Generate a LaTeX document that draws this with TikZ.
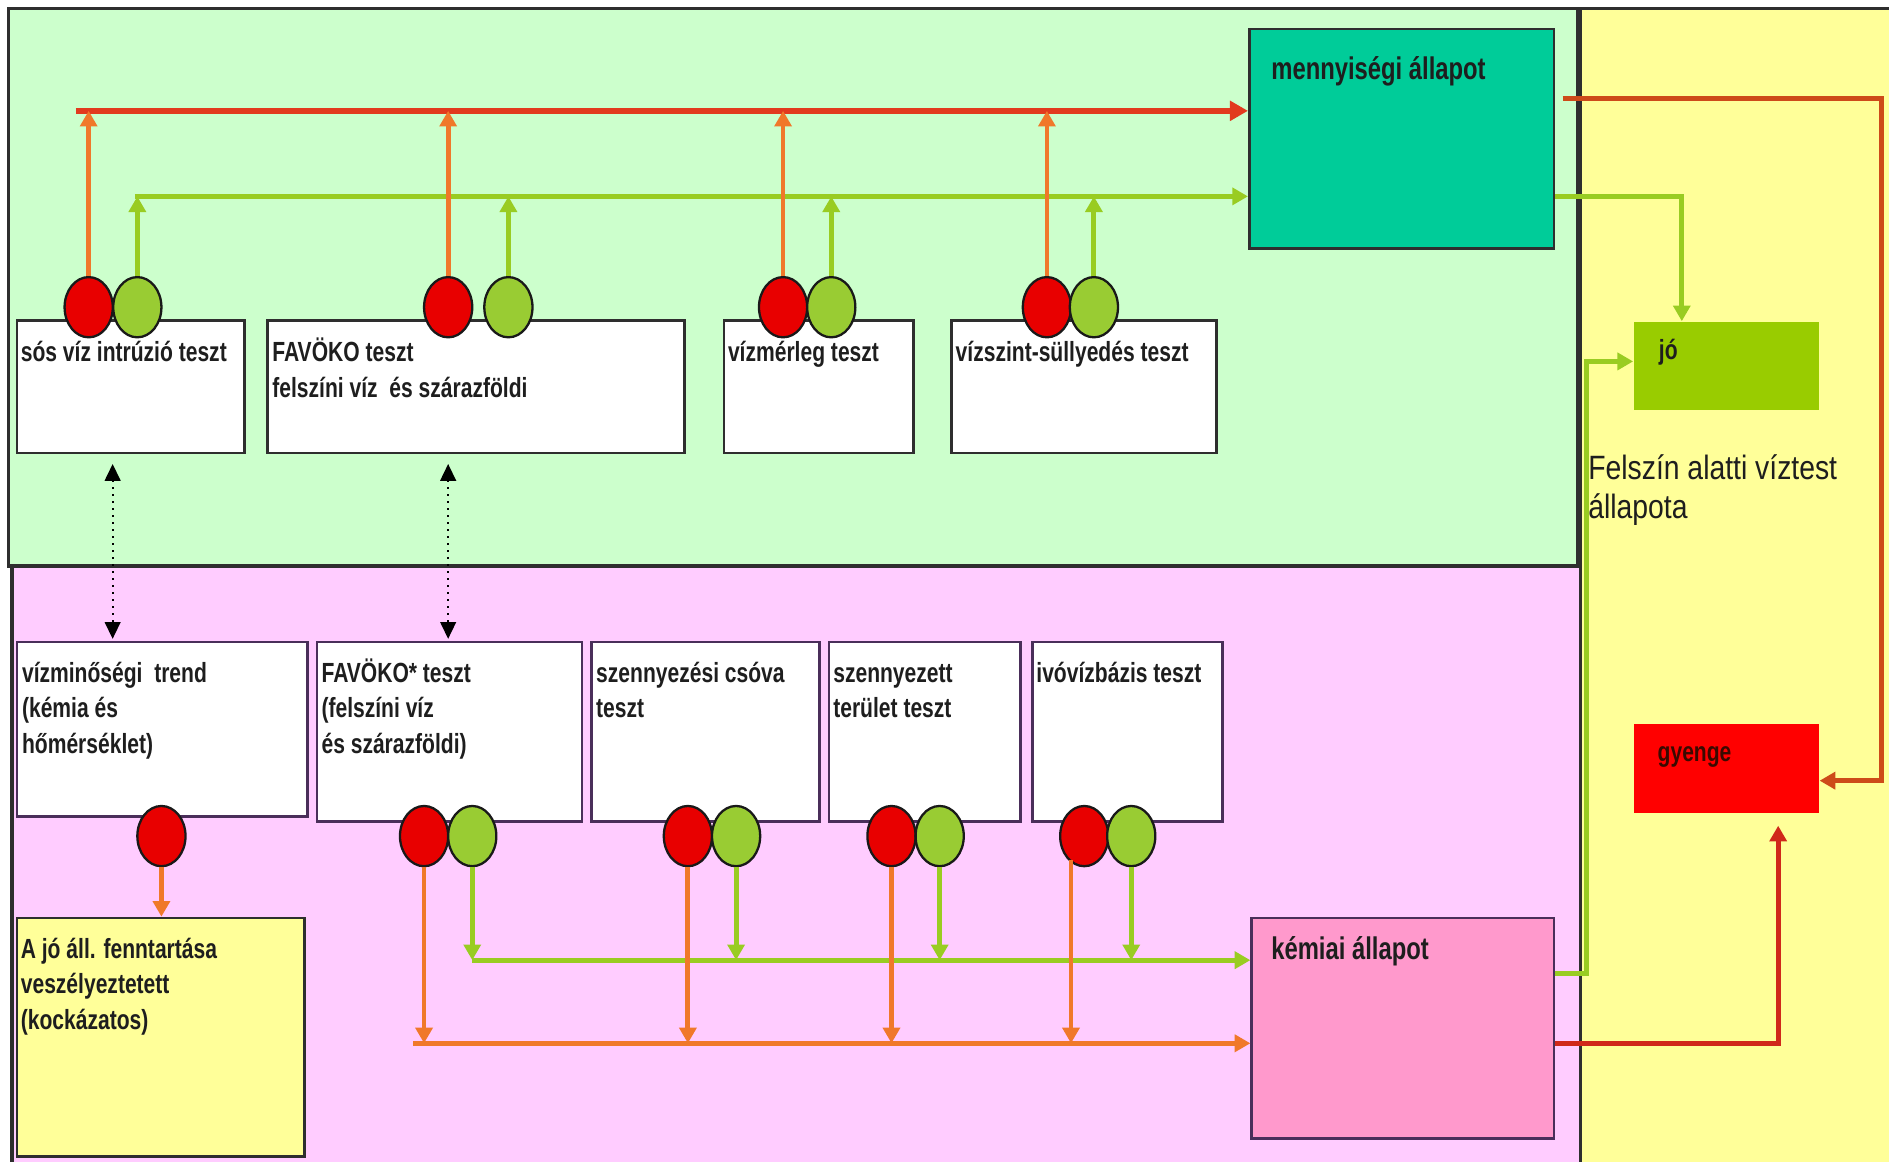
\documentclass[tikz,border=0pt]{standalone}
\usepackage{fontspec}
\setmainfont{Liberation Sans}
\newfontfamily\nbfam[FakeStretch=0.76]{Liberation Sans}
\newfontfamily\nrfam[FakeStretch=0.84]{Liberation Sans}
\usetikzlibrary{shapes.geometric,arrows.meta,fit}
\definecolor{bgG}{HTML}{CCFFCC}
\definecolor{bgP}{HTML}{FFCCFF}
\definecolor{bgY}{HTML}{FFFF99}
\definecolor{tealbox}{HTML}{00CC99}
\definecolor{pinkbox}{HTML}{FF99CC}
\definecolor{jobox}{HTML}{99CC00}
\definecolor{gyred}{HTML}{FF0000}
\definecolor{cRed}{HTML}{E80000}
\definecolor{cGreen}{HTML}{99CC33}
\definecolor{lnOr}{HTML}{F0782A}
\definecolor{lnRed}{HTML}{E23A1E}
\definecolor{lnGr}{HTML}{99CC22}
\definecolor{lnBr}{HTML}{CD4B19}
\definecolor{lnDr}{HTML}{D0281A}
\definecolor{bdr}{HTML}{2E2E2E}
\definecolor{bdrP}{HTML}{4A2E5A}
\definecolor{txt}{HTML}{1E1E1E}
\definecolor{txtdk}{HTML}{3A0A00}
\newcommand\lstr{\rule{0pt}{11pt}}
\newcommand\lstrb{\rule{0pt}{12.5pt}}
\newcommand\lstrc{\rule{0pt}{13pt}}
\begin{document}
\begin{tikzpicture}[x=0.5pt,y=-0.5pt,
  tbx/.style={draw=bdr, line width=1.1pt, fill=white, inner sep=0pt},
  pbx/.style={draw=bdrP, line width=1.1pt, fill=white, inner sep=0pt},
  lbl/.style={anchor=north west, inner sep=0pt, align=left, text=txt,
    font=\nbfam\bfseries\fontsize{11.5pt}{14.75pt}\selectfont},
  lb/.style n args={3}{label={[lbl,xshift=#1,yshift=#2]north west:{\lstr#3}}},
  lbb/.style n args={3}{label={[lbl,font=\nbfam\bfseries\fontsize{13pt}{16pt}\selectfont,xshift=#1,yshift=#2]north west:{\lstrb#3}}},
  rc/.style={ellipse, draw=black!90, line width=0.95pt, fill=cRed,
    minimum width=20pt, minimum height=25pt, inner sep=0pt},
  gc/.style={rc, fill=cGreen},
  tip/.style={-{Triangle[length=6.5pt,width=7pt]}},
  orl/.style={draw=lnOr, line width=2pt, tip},
  grl/.style={draw=lnGr, line width=2pt, tip},
  dotarr/.style={draw=black, dotted, line width=0.9pt,
    {Triangle[length=7pt,width=6.5pt]}-{Triangle[length=7pt,width=6.5pt]}}
]
\useasboundingbox (0,0) rectangle (1568,964);
% regions
\path[fill=bgY, draw=bdr, line width=1.2pt] (1312,7) rectangle (1590,990);
\path[fill=bgG, draw=bdr, line width=1.5pt] (7,7) rectangle (1310,470);
\path[fill=bgP, draw=bdr, line width=1.5pt] (10,470) rectangle (1312,990);

% top boxes
\node[tbx, fit={(14,266)(203,376)}, lb={2pt}{-6.5pt}{sós víz intrúzió teszt}] (sos) {};
\node[tbx, fit={(222,266)(568,376)}, lb={2.4pt}{-6.5pt}{FAVÖKO teszt\\felszíni víz\ \ és szárazföldi}] (fav) {};
\node[tbx, fit={(601,266)(758,376)}, lb={2pt}{-6.5pt}{vízmérleg teszt}] (vzm) {};
\node[tbx, fit={(790,266)(1010,376)}, lb={2pt}{-6.5pt}{vízszint-süllyedés teszt}] (vzs) {};
\node[tbx, fill=tealbox, fit={(1037,24)(1290,206)}, lbb={9.5pt}{-9pt}{mennyiségi állapot}] (mb) {};

% bottom boxes
\node[pbx, fit={(14,533)(255,678)}, lb={2.5pt}{-6pt}{vízminőségi\ \ trend\\(kémia és\\hőmérséklet)}] (vm) {};
\node[pbx, fit={(263,533)(483,682)}, lb={2.3pt}{-6pt}{FAVÖKO* teszt\\(felszíni víz\\és szárazföldi)}] (fs) {};
\node[pbx, fit={(491,533)(680,682)}, lb={2.3pt}{-6pt}{szennyezési csóva\\teszt}] (sz) {};
\node[pbx, fit={(688,533)(847,682)}, lb={2.2pt}{-6pt}{szennyezett\\terület teszt}] (st) {};
\node[pbx, fit={(857,533)(1015,682)}, lb={2pt}{-6pt}{ivóvízbázis teszt}] (iv) {};
\node[tbx, fill=bgY, fit={(14,762)(253,960)}, lb={2pt}{-6pt}{A jó áll. fenntartása\\veszélyeztetett\\(kockázatos)}] (yb) {};
\node[pbx, fill=pinkbox, fit={(1039,762)(1290,945)}, lbb={8.5pt}{-5pt}{kémiai állapot}] (km) {};

% state boxes
\node[fill=jobox, inner sep=0pt, fit={(1356,267)(1510,340)}, lb={10.5pt}{-4.5pt}{jó}] (jo) {};
\node[fill=gyred, inner sep=0pt, fit={(1356,601)(1510,675)},
  label={[lbl,text=txtdk,xshift=10pt,yshift=-4.5pt]north west:{\lstr gyenge}}] (gy) {};
\node[anchor=north west, inner sep=0pt, align=left, text=txt,
  font=\nrfam\fontsize{14pt}{16pt}\selectfont] (ft) at (1318,372) {\lstrc Felszín alatti víztest\\állapota};

% top circles
\node[rc] (r1) at (73.6,255) {};
\node[gc] (g1) at (114,255) {};
\node[rc] (r2) at (372,255) {};
\node[gc] (g2) at (422,255) {};
\node[rc] (r3) at (650,255) {};
\node[gc] (g3) at (690,255) {};
\node[rc] (r4) at (869,255) {};
\node[gc] (g4) at (908,255) {};

% bottom circles
\node[rc] (vr) at (134,694) {};
\node[rc] (fr) at (352,694) {};
\node[gc] (fg) at (392,694) {};
\node[rc] (sr) at (571,694) {};
\node[gc] (sg) at (611,694) {};
\node[rc] (tr) at (740,694) {};
\node[gc] (tg) at (780,694) {};
\node[rc] (ir) at (900,694) {};
\node[gc] (ig) at (939,694) {};

% top buses
\coordinate (rb0) at (63,92);
\coordinate (gb0) at (112,163);
\draw[draw=lnRed, line width=2.6pt, -{Triangle[length=7.5pt,width=8pt]}] (rb0) -- (rb0 -| mb.west);
\draw[grl] (gb0) -- (gb0 -| mb.west);
\foreach \c in {r1,r2,r3,r4} \draw[orl] (\c.north) -- (\c.north |- rb0);
\foreach \c in {g1,g2,g3,g4} \draw[grl] (\c.north) -- (\c.north |- gb0);

% bottom buses
\coordinate (ob0) at (343,866);
\coordinate (gb1) at (392,797);
\draw[orl] (ob0) -- (ob0 -| km.west);
\draw[grl] (gb1) -- (gb1 -| km.west);
\foreach \c in {fr,sr,tr} \draw[orl] (\c.south) -- (\c.south |- ob0);
\coordinate (iro) at (889,0);
\draw[orl, shorten <=-3pt] (ir.south -| iro) -- (ob0 -| iro);
\foreach \c in {fg,sg,tg,ig} \draw[grl] (\c.south) -- (\c.south |- gb1);
\draw[orl] (vr.south) -- (vr.south |- yb.north);

% dotted links
\coordinate (d1) at (93.5,0);
\coordinate (d2) at (372,0);
\draw[dotarr, shorten <=4pt, shorten >=0.8pt] (sos.south -| d1) -- (vm.north -| d1);
\draw[dotarr, shorten <=4pt, shorten >=0.8pt] (fav.south -| d2) -- (fs.north -| d2);

% right side
\coordinate (q1) at (1562,82);
\coordinate (q2) at (1562,648);
\draw[draw=lnBr, line width=2pt, tip, shorten <=3pt] (mb.east |- q1) -- (q1) -- (q2) -- (q2 -| gy.east);
\coordinate (q3) at (1396,163);
\draw[grl] (mb.east |- q3) -- (q3) -- (q3 |- jo.north);
\coordinate (q4) at (1317,808);
\coordinate (q5) at (1317,300);
\draw[grl] (km.east |- q4) -- (q4) -- (q5) -- (q5 -| jo.west);
\coordinate (q6) at (1476,866);
\draw[draw=lnDr, line width=2pt, tip, shorten >=5pt] (km.east |- q6) -- (q6) -- (q6 |- gy.south);
\end{tikzpicture}
\end{document}
